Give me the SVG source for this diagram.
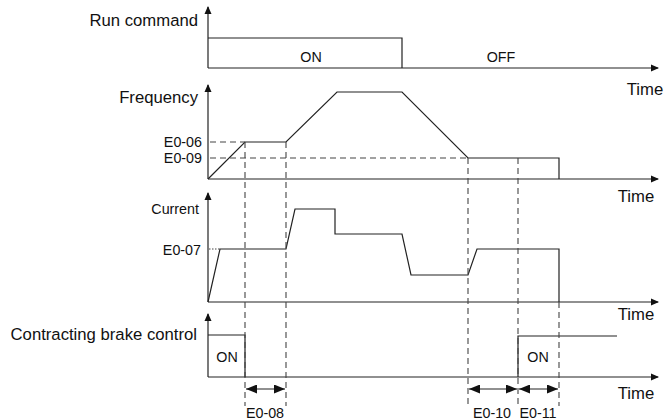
<svg xmlns="http://www.w3.org/2000/svg" width="669" height="420" viewBox="0 0 669 420">
<style>
text{font-family:"Liberation Sans",Arial,sans-serif;fill:#111}
.lbl{font-size:16.7px}
.sm{font-size:14.3px}
.ln{fill:none;stroke:#222;stroke-width:1.2}
.dash{fill:none;stroke:#444;stroke-width:1.1;stroke-dasharray:6 4}
.dot{fill:none;stroke:#444;stroke-width:1;stroke-dasharray:1.5 1.5}
</style>
<defs>
<marker id="ah" markerWidth="8" markerHeight="8" refX="7" refY="4" orient="auto" markerUnits="userSpaceOnUse">
<path d="M0,0.5 L8,4 L0,7.5 Z" fill="#111"/>
</marker>
<marker id="da" markerWidth="11" markerHeight="9" refX="11" refY="4.5" orient="auto-start-reverse" markerUnits="userSpaceOnUse">
<path d="M0,0 L11,4.5 L0,9 Z" fill="#111"/>
</marker>
</defs>
<g id="axes">
<line class="ln" x1="208" y1="68" x2="208" y2="7" marker-end="url(#ah)"/>
<line class="ln" x1="208" y1="68" x2="658" y2="68" marker-end="url(#ah)"/>
<line class="ln" x1="208" y1="179" x2="208" y2="85" marker-end="url(#ah)"/>
<line class="ln" x1="208" y1="179" x2="658" y2="179" marker-end="url(#ah)"/>
<line class="ln" x1="208" y1="302" x2="208" y2="193" marker-end="url(#ah)"/>
<line class="ln" x1="208" y1="302" x2="658" y2="302" marker-end="url(#ah)"/>
<line class="ln" x1="208" y1="377" x2="208" y2="314" marker-end="url(#ah)"/>
<line class="ln" x1="208" y1="377" x2="658" y2="377" marker-end="url(#ah)"/>
</g>
<g id="run-command">
<text class="lbl" x="198" y="26" text-anchor="end">Run command</text>
<polyline class="ln" points="208,38 402,38 402,68"/>
<text class="sm" x="311" y="62" text-anchor="middle">ON</text>
<text class="sm" x="501" y="62" text-anchor="middle">OFF</text>
<text class="lbl" x="645" y="95" text-anchor="middle">Time</text>
</g>
<g id="frequency">
<text class="lbl" x="198" y="103" text-anchor="end">Frequency</text>
<text class="sm" x="202" y="147" text-anchor="end">E0-06</text>
<text class="sm" x="202" y="163" text-anchor="end">E0-09</text>
<polyline class="ln" points="208,179 245,142 286,142 337,92 402,92 468,158 559,158 559,179"/>
<text class="lbl" x="636" y="202" text-anchor="middle">Time</text>
</g>
<g id="current">
<text class="sm" x="199" y="214" text-anchor="end">Current</text>
<text class="sm" x="201" y="255" text-anchor="end">E0-07</text>
<line class="dot" x1="209" y1="249" x2="220" y2="249"/>
<polyline class="ln" points="208,302 220,249 286,249 295,209 335,209 335,234 402,234 411,275 468,275 477,249 559,249 559,302"/>
<text class="lbl" x="636" y="320" text-anchor="middle">Time</text>
</g>
<g id="brake">
<text class="lbl" x="197" y="340" text-anchor="end">Contracting brake control</text>
<polyline class="ln" points="208,335 245,335 245,377"/>
<polyline class="ln" points="518,377 518,336 617,336"/>
<text class="sm" x="227" y="362" text-anchor="middle">ON</text>
<text class="sm" x="538" y="362" text-anchor="middle">ON</text>
<text class="lbl" x="636" y="399" text-anchor="middle">Time</text>
</g>
<g id="connectors">
<line class="dash" x1="210" y1="142" x2="245" y2="142"/>
<line class="dash" x1="210" y1="158" x2="468" y2="158"/>
<line class="dash" x1="245" y1="142" x2="245" y2="406"/>
<line class="dash" x1="286" y1="142" x2="286" y2="406"/>
<line class="dash" x1="468" y1="158" x2="468" y2="406"/>
<line class="dash" x1="518" y1="158" x2="518" y2="406"/>
<line class="dash" x1="559" y1="302" x2="559" y2="406"/>
<line class="ln" x1="246" y1="389" x2="285" y2="389" marker-start="url(#da)" marker-end="url(#da)"/>
<line class="ln" x1="469" y1="389" x2="517" y2="389" marker-start="url(#da)" marker-end="url(#da)"/>
<line class="ln" x1="519" y1="389" x2="558" y2="389" marker-start="url(#da)" marker-end="url(#da)"/>
<text class="sm" x="265" y="418" text-anchor="middle">E0-08</text>
<text class="sm" x="492" y="418" text-anchor="middle">E0-10</text>
<text class="sm" x="538" y="418" text-anchor="middle">E0-11</text>
</g>
</svg>
